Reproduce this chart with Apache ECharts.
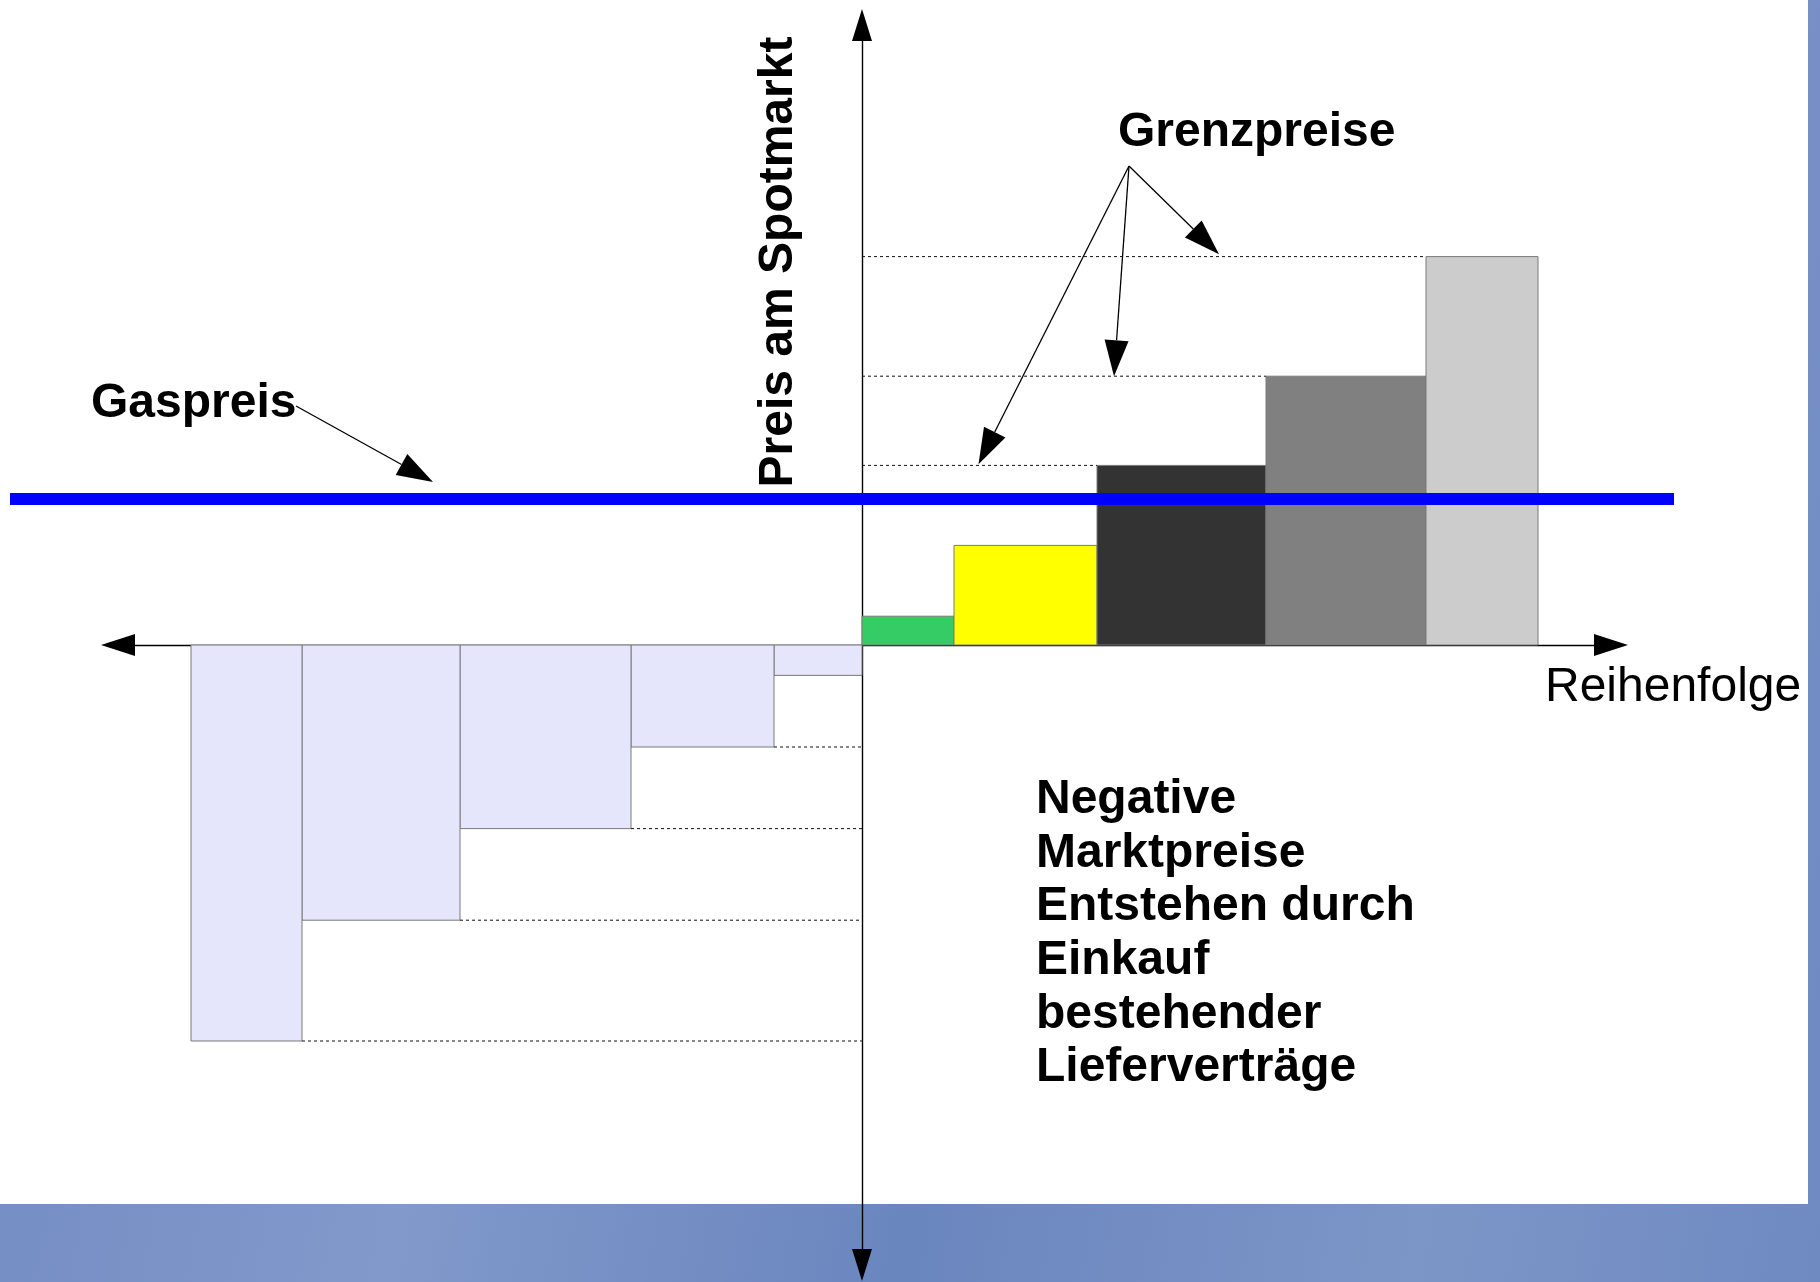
<!DOCTYPE html>
<html><head><meta charset="utf-8">
<script src="https://cdn.jsdelivr.net/npm/echarts@6/dist/echarts.min.js"></script>
<style>
html,body{margin:0;padding:0;width:1820px;height:1282px;overflow:hidden;
 background:linear-gradient(100deg,#7089c0 0%,#8199cb 30%,#6a86be 55%,#7d96c8 80%,#6e8ac1 100%);}
#panel{position:absolute;left:0;top:0;width:1808px;height:1204px;background:#ffffff;}
#c{position:absolute;left:0;top:0;width:1820px;height:1282px;}
</style></head>
<body><div id="panel"></div><div id="c"></div>
<script>
// ---- data ----
const supplyWidths   = [9.2, 14.3, 16.9, 16.0, 11.2];     // capacity blocks (merit order)
const supplyPrices   = [7.2, 24.9, 44.9, 67.2, 97.1];     // marginal prices
const contractWidths = [8.8, 14.3, 17.1, 15.8, 11.1];     // existing supply contracts (to the left)
const contractPrices = [-7.6, -25.5, -45.9, -68.8, -99.0];// negative market prices
const gasPrice = 36.5;
const gasSpan = [-85.2, 81.2];
const grenzOrigin = [26.7, 119.75];
const grenzTargets = [[11.65, 45.2], [25.2, 67.2], [35.7, 97.7]];
const gasArrowFrom = [-56.6, 59.75];
const gasArrowTo = [-42.9, 40.75];
const noteLines = ['Negative', 'Marktpreise', 'Entstehen durch', 'Einkauf', 'bestehender', 'Lieferverträge'];

// ---- styles ----
const supplyColors = ['#35cc66', '#ffff00', '#333333', '#808080', '#cccccc'];
const contractColor = '#e5e5fb';
const FONT = '"Liberation Sans", Arial, sans-serif';

// build series data from arrays
const supplyData = [];
let acc = 0;
supplyWidths.forEach((w, i) => { supplyData.push([acc, acc + w, supplyPrices[i], i]); acc += w; });
const contractData = [];
acc = 0;
contractWidths.forEach((w, i) => { contractData.push([-acc, -(acc + w), contractPrices[i], i]); acc += w; });

const guideData = [];
supplyData.forEach(d => { if (d[2] > gasPrice && d[0] > 0) guideData.push([0, d[0], d[2]]); });
contractData.forEach(d => { if (d[0] < 0) guideData.push([d[0], 0, d[2]]); });

const arrowData = grenzTargets.map(t => [grenzOrigin[0], grenzOrigin[1], t[0], t[1]]);
arrowData.push([gasArrowFrom[0], gasArrowFrom[1], gasArrowTo[0], gasArrowTo[1]]);

function barRender(colorFn) {
  return function (params, api) {
    const x0 = api.value(0), x1 = api.value(1), v = api.value(2);
    const p0 = api.coord([x0, 0]), p1 = api.coord([x1, v]);
    return {
      type: 'rect',
      shape: { x: Math.min(p0[0], p1[0]), y: Math.min(p0[1], p1[1]),
               width: Math.abs(p1[0] - p0[0]), height: Math.abs(p1[1] - p0[1]) },
      style: { fill: colorFn(api.value(3)), stroke: '#7a7a7a', lineWidth: 1 }
    };
  };
}

function textStyle(t, font, align) {
  return { text: t, font: font, fill: '#000', textAlign: align, textVerticalAlign: 'middle', align: align, verticalAlign: 'middle' };
}

const chart = echarts.init(document.getElementById('c'), null, { renderer: 'canvas' });
chart.setOption({
  backgroundColor: 'transparent',
  animation: false,
  grid: { left: 118, right: 209, top: 25, bottom: 17, containLabel: false },
  xAxis: {
    type: 'value', min: -74.4, max: 74.9,
    axisLine: { onZero: true, symbol: ['triangle', 'triangle'], symbolSize: [22, 34],
                lineStyle: { color: '#000', width: 1.4 } },
    axisTick: { show: false }, axisLabel: { show: false }, splitLine: { show: false }
  },
  yAxis: {
    type: 'value', min: -155, max: 155,
    axisLine: { show: true, onZero: true, symbol: ['triangle', 'triangle'], symbolSize: [20, 32],
                lineStyle: { color: '#000', width: 1.4 } },
    axisTick: { show: false }, axisLabel: { show: false }, splitLine: { show: false }
  },
  series: [
    { type: 'custom', name: 'contracts', z: 2, data: contractData,
      renderItem: barRender(() => contractColor) },
    { type: 'custom', name: 'supply', z: 3, data: supplyData,
      renderItem: barRender(i => supplyColors[i]) },
    { type: 'custom', name: 'guides', z: 4, data: guideData,
      renderItem: function (params, api) {
        const a = api.coord([api.value(0), api.value(2)]);
        const b = api.coord([api.value(1), api.value(2)]);
        return { type: 'line', shape: { x1: a[0], y1: a[1], x2: b[0], y2: b[1] },
                 style: { stroke: '#111', lineWidth: 1, lineDash: [3, 3] } };
      } },
    { type: 'custom', name: 'Gaspreis', z: 6, clip: false, data: [[gasSpan[0], gasSpan[1], gasPrice]],
      renderItem: function (params, api) {
        const a = api.coord([api.value(0), api.value(2)]);
        const b = api.coord([api.value(1), api.value(2)]);
        return { type: 'line', shape: { x1: a[0], y1: a[1], x2: b[0], y2: b[1] },
                 style: { stroke: '#0000ff', lineWidth: 12 } };
      } },
    { type: 'custom', name: 'arrows', z: 7, clip: false, data: arrowData,
      renderItem: function (params, api) {
        const a = api.coord([api.value(0), api.value(1)]);
        const b = api.coord([api.value(2), api.value(3)]);
        const dx = b[0] - a[0], dy = b[1] - a[1], L = Math.hypot(dx, dy);
        const ux = dx / L, uy = dy / L, hl = 36, hw = 12;
        const bx = b[0] - ux * hl, by = b[1] - uy * hl;
        return { type: 'group', children: [
          { type: 'line', shape: { x1: a[0], y1: a[1], x2: bx, y2: by },
            style: { stroke: '#000', lineWidth: 1.3 } },
          { type: 'polygon', shape: { points: [[b[0], b[1]], [bx - uy * hw, by + ux * hw], [bx + uy * hw, by - ux * hw]] },
            style: { fill: '#000' } }
        ] };
      } }
  ],
  graphic: [
    { type: 'text', x: 1118, y: 133, z: 10, style: textStyle('Grenzpreise', 'bold 48px ' + FONT, 'left') },
    { type: 'text', x: 91, y: 404, z: 10, style: textStyle('Gaspreis', 'bold 48px ' + FONT, 'left') },
    { type: 'text', x: 779, y: 262, rotation: Math.PI / 2, z: 10, style: textStyle('Preis am Spotmarkt', 'bold 48px ' + FONT, 'center') },
    { type: 'text', x: 1545, y: 688, z: 10, style: textStyle('Reihenfolge', '48px ' + FONT, 'left') }
  ].concat(noteLines.map((t, i) => ({
    type: 'text', x: 1036, y: 800 + i * 53.6, z: 10, style: textStyle(t, 'bold 48px ' + FONT, 'left')
  })))
});
</script>
</body></html>
